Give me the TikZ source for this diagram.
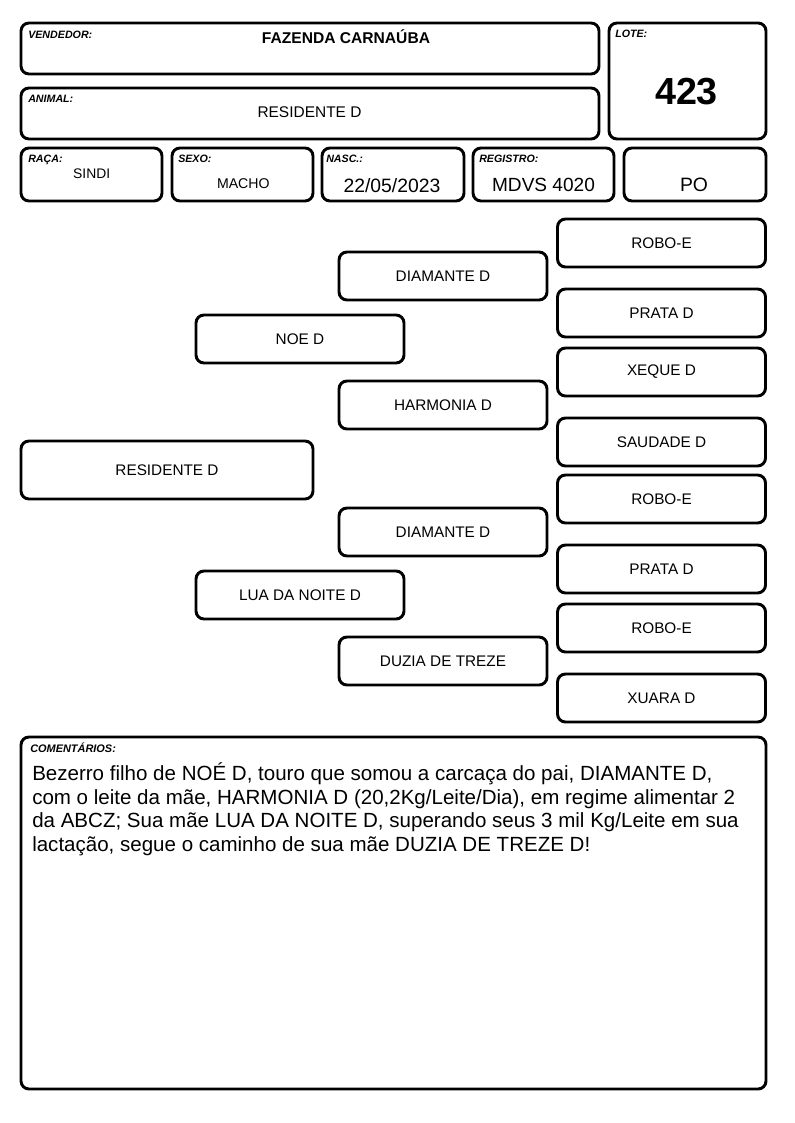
\documentclass[tikz,border=0pt]{standalone}
\usepackage{fontspec}
\setmainfont{Liberation Sans}
\begin{document}
\begin{tikzpicture}[x=0.75pt,y=-0.75pt,
  box/.style={draw, line width=2.2pt, rounded corners=6pt, inner sep=0pt, outer sep=0pt},
  lab/.style={font=\fontsize{8}{9}\selectfont\bfseries\itshape, anchor=base west, inner sep=0pt},
  val/.style={anchor=base, inner sep=0pt},
  ped/.style={box, font=\fontsize{11.5}{13}\selectfont, minimum height=36pt, minimum width=156pt},
  cmt/.style={anchor=base west, inner sep=0pt, font=\fontsize{15.4}{17}\selectfont}
]
\useasboundingbox (0,0) rectangle (794,1123);
\newcommand{\bx}[5]{\node[box, minimum width={(#4-#2)*0.75pt}, minimum height={(#5-#3)*0.75pt}] (#1) at ({(#2+#4)/2},{(#3+#5)/2}) {};}
% header boxes
\bx{vend}{21}{23}{599}{74}
\bx{lote}{609}{23}{766}{139}
\bx{anim}{21}{88}{599}{139}
\bx{raca}{21}{148}{162}{201}
\bx{sexo}{172}{148}{313}{201}
\bx{nasc}{322}{148}{464}{201}
\bx{reg}{473}{148}{614}{201}
\bx{po}{624}{148}{766}{201}
\bx{com}{21}{737}{766}{1089}
% labels
\node[lab] (lvend) at (28,39) {VENDEDOR:};
\node[lab] (llote) at (615,38) {LOTE:};
\node[lab] (lanim) at (28,103) {ANIMAL:};
\node[lab] (lraca) at (28,163) {RAÇA:};
\node[lab] (lsexo) at (178,163) {SEXO:};
\node[lab] (lnasc) at (326,163) {NASC.:};
\node[lab] (lreg) at (479,163) {REGISTRO:};
\node[lab, font=\fontsize{8.2}{9}\selectfont\bfseries\itshape] (lcom) at (30,752.5) {COMENTÁRIOS:};
% values
\node[val, font=\fontsize{11.7}{13}\selectfont\bfseries] (tvend) at (346,43.3) {FAZENDA CARNAÚBA};
\node[val, font=\fontsize{28.3}{30}\selectfont\bfseries] (tlote) at (686.5,105) {423};
\node[val, font=\fontsize{11.6}{13}\selectfont] (tanim) at (309.5,117.3) {RESIDENTE D};
\node[val, font=\fontsize{10.4}{12}\selectfont] (traca) at (91.7,178.3) {SINDI};
\node[val, font=\fontsize{10.6}{12}\selectfont] (tsexo) at (243.3,189) {MACHO};
\node[val, font=\fontsize{14.5}{16}\selectfont] (tnasc) at (392,192.3) {22/05/2023};
\node[val, font=\fontsize{14.3}{16}\selectfont] (treg) at (543.5,191.7) {MDVS 4020};
\node[val, font=\fontsize{14.5}{16}\selectfont] (tpo) at (694,191.7) {PO};
% pedigree
\node[ped, minimum width=219pt, minimum height=43.5pt] (p0) at (167,470) {RESIDENTE D};
\node[ped] (p1) at (300,339) {NOE D};
\node[ped] (p2) at (300,595) {LUA DA NOITE D};
\node[ped] (p11) at (443,276) {DIAMANTE D};
\node[ped] (p12) at (443,405) {HARMONIA D};
\node[ped] (p21) at (443,532) {DIAMANTE D};
\node[ped] (p22) at (443,661) {DUZIA DE TREZE};
\node[ped] (p111) at (661.5,243) {ROBO-E};
\node[ped] (p112) at (661.5,313) {PRATA D};
\node[ped] (p121) at (661.5,372) {XEQUE D};
\node[ped] (p122) at (661.5,442) {SAUDADE D};
\node[ped] (p211) at (661.5,499) {ROBO-E};
\node[ped] (p212) at (661.5,569) {PRATA D};
\node[ped] (p221) at (661.5,628) {ROBO-E};
\node[ped] (p222) at (661.5,698) {XUARA D};
% comments
\node[cmt] (c1) at (32,780.7) {Bezerro filho de NOÉ D, touro que somou a carcaça do pai, DIAMANTE D,};
\node[cmt] (c2) at (32,804.2) {com o leite da mãe, HARMONIA D (20,2Kg/Leite/Dia), em regime alimentar 2};
\node[cmt] (c3) at (32,827.7) {da ABCZ; Sua mãe LUA DA NOITE D, superando seus 3 mil Kg/Leite em sua};
\node[cmt] (c4) at (32,851.2) {lactação, segue o caminho de sua mãe DUZIA DE TREZE D!};
\end{tikzpicture}
\end{document}
